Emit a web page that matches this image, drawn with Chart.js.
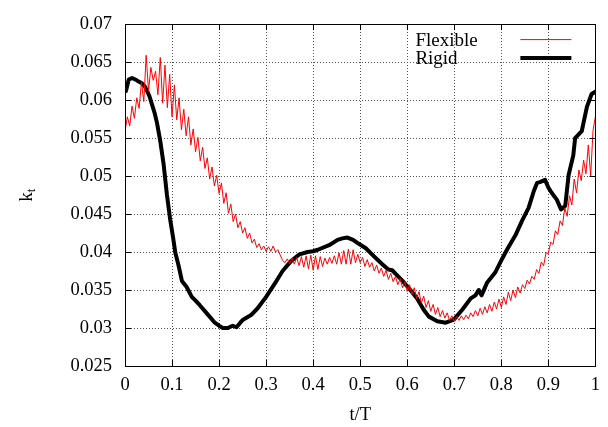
<!DOCTYPE html>
<html>
<head>
<meta charset="utf-8">
<style>
  html, body { margin: 0; padding: 0; background: #fff; }
  #wrap { width: 608px; height: 427px; }
</style>
</head>
<body>
<div id="wrap"><canvas id="mychart"></canvas></div>
<script src="https://cdn.jsdelivr.net/npm/chart.js@4.4.0/dist/chart.umd.min.js"></script>
<script>

// Flexible (red), peak / trough pairs
var flexT = [0,0.005,0.01,0.015,0.02,0.025,0.03,0.035,0.04,0.045,0.05,0.055,0.06,0.065,0.07,0.075,0.08,0.085,0.09,0.095,
  0.1,0.105,0.11,0.115,0.12,0.125,0.13,0.135,0.14,0.145,0.15,0.155,0.16,0.165,0.17,0.175,0.18,0.185,0.19,0.195,
  0.2,0.205,0.21,0.215,0.22,0.225,0.23,0.235,0.24,0.245,0.25,0.255,0.26,0.265,0.27,0.275,0.28,0.285,0.29,0.295,
  0.3,0.305,0.31,0.315,0.32,0.325,0.33,0.335,0.34,0.345,0.35,0.355,0.36,0.365,0.37,0.375,0.38,0.385,0.39,0.395,
  0.4,0.405,0.41,0.415,0.42,0.425,0.43,0.435,0.44,0.445,0.45,0.455,0.46,0.465,0.47,0.475,0.48,0.485,0.49,0.495,
  0.5,0.505,0.51,0.515,0.52,0.525,0.53,0.535,0.54,0.545,0.55,0.555,0.56,0.565,0.57,0.575,0.58,0.585,0.59,0.595,
  0.6,0.605,0.61,0.615,0.62,0.625,0.63,0.635,0.64,0.645,0.65,0.655,0.66,0.665,0.67,0.675,0.68,0.685,0.69,0.695,
  0.7,0.705,0.71,0.715,0.72,0.725,0.73,0.735,0.74,0.745,0.75,0.755,0.76,0.765,0.77,0.775,0.78,0.785,0.79,0.795,
  0.8,0.805,0.81,0.815,0.82,0.825,0.83,0.835,0.84,0.845,0.85,0.855,0.86,0.865,0.87,0.875,0.88,0.885,0.89,0.895,
  0.9,0.905,0.91,0.915,0.92,0.925,0.93,0.935,0.94,0.945,0.95,0.955,0.96,0.965,0.97,0.975,0.98,0.985,0.99,0.995,1];
var flexK = [0.0559,0.0578,0.0566,0.0592,0.0576,0.0603,0.0589,0.0624,0.0598,0.0659,0.0612,0.0643,0.0626,0.0638,0.0607,0.0656,0.0596,0.0646,0.0590,0.0634,
  0.0578,0.0620,0.0574,0.0603,0.0561,0.0588,0.0553,0.0578,0.0541,0.0562,0.0532,0.0551,0.0520,0.0538,0.0510,0.0524,0.0496,0.0512,0.0487,0.0501,
  0.0477,0.0491,0.0464,0.0478,0.0451,0.0463,0.0440,0.0450,0.0432,0.0440,0.0425,0.0432,0.0418,0.0425,0.0412,0.0417,0.0406,0.0411,0.0403,0.0408,
  0.0401,0.0407,0.0401,0.0408,0.0400,0.0403,0.0396,0.0389,0.0386,0.0391,0.0385,0.0392,0.0384,0.0393,0.0382,0.0394,0.0380,0.0395,0.0378,0.0396,
  0.0376,0.0395,0.0377,0.0394,0.0381,0.0392,0.0384,0.0393,0.0385,0.0395,0.0384,0.0399,0.0384,0.0402,0.0384,0.0404,0.0384,0.0403,0.0386,0.0397,
  0.0386,0.0393,0.0381,0.0390,0.0380,0.0386,0.0375,0.0383,0.0372,0.0379,0.0368,0.0376,0.0364,0.0372,0.0361,0.0368,0.0357,0.0365,0.0353,0.0361,
  0.0348,0.0357,0.0344,0.0353,0.0339,0.0348,0.0333,0.0342,0.0327,0.0336,0.0322,0.0331,0.0318,0.0327,0.0315,0.0323,0.0313,0.0320,0.0310,0.0316,
  0.0309,0.0315,0.0310,0.0316,0.0311,0.0317,0.0312,0.0320,0.0315,0.0323,0.0316,0.0326,0.0318,0.0328,0.0320,0.0331,0.0322,0.0334,0.0325,0.0338,
  0.0327,0.0341,0.0331,0.0347,0.0336,0.0350,0.0340,0.0354,0.0346,0.0357,0.0352,0.0363,0.0358,0.0368,0.0364,0.0377,0.0372,0.0387,0.0382,0.0399,
  0.0398,0.0413,0.0410,0.0428,0.0423,0.0441,0.0435,0.0458,0.0447,0.0474,0.0462,0.0496,0.0478,0.0508,0.0494,0.0521,0.0503,0.0541,0.0500,0.0560,0.0578];

// Rigid (black)
var rigidT = [0.002,0.008,0.015,0.025,0.03,0.036,0.042,0.047,0.052,0.057,0.063,0.068,0.075,0.082,0.089,0.096,0.102,0.107,0.114,0.121,
  0.131,0.142,0.15,0.159,0.173,0.191,0.2,0.208,0.219,0.225,0.229,0.237,0.245,0.251,0.268,0.282,0.3,0.318,0.335,0.353,
  0.371,0.388,0.4,0.41,0.434,0.452,0.462,0.473,0.485,0.494,0.512,0.53,0.547,0.56,0.568,0.576,0.59,0.604,0.621,0.635,
  0.646,0.664,0.682,0.699,0.717,0.735,0.745,0.752,0.758,0.77,0.787,0.8,0.812,0.83,0.844,0.858,0.869,0.876,0.882,0.893,
  0.9,0.907,0.918,0.927,0.936,0.943,0.953,0.957,0.971,0.982,0.992,1];
var rigidK = [0.0612,0.0627,0.0629,0.0626,0.0624,0.0622,0.0618,0.0612,0.0605,0.0595,0.0583,0.0570,0.0546,0.0516,0.0476,0.0443,0.0420,0.0399,0.0382,0.0362,
  0.0354,0.0341,0.0336,0.0330,0.0320,0.0307,0.0303,0.0300,0.0300,0.0302,0.0303,0.0301,0.0307,0.0311,0.0317,0.0326,0.0341,0.0358,0.0375,0.0388,
  0.0397,0.0400,0.0401,0.0403,0.0409,0.0416,0.0418,0.0419,0.0416,0.0412,0.0405,0.0394,0.0384,0.0377,0.0376,0.0371,0.0362,0.0352,0.0339,0.0324,
  0.0315,0.0309,0.0307,0.0311,0.0324,0.0339,0.0343,0.0350,0.0343,0.0360,0.0373,0.0389,0.0403,0.0422,0.0441,0.0458,0.0480,0.0491,0.0492,0.0495,
  0.0485,0.0478,0.0469,0.0456,0.0461,0.0501,0.0527,0.0550,0.0559,0.0591,0.0608,0.0611];

var xTickLabels = ['0','0.1','0.2','0.3','0.4','0.5','0.6','0.7','0.8','0.9','1'];
var yTickLabels = ['0.025','0.03','0.035','0.04','0.045','0.05','0.055','0.06','0.065','0.07'];
var seriesNames = ['Flexible', 'Rigid'];

var serif = "'Liberation Serif', 'Times New Roman', serif";

function pairs(t, k) {
  return t.map(function(v, i){ return {x: v, y: k[i]}; });
}

// dotted grid under the curves
var dottedGrid = {
  id: 'dottedGrid',
  beforeDatasetsDraw: function(chart) {
    var ctx = chart.ctx, a = chart.chartArea;
    var xs = chart.scales.x, ys = chart.scales.y;
    ctx.save();
    ctx.strokeStyle = '#555';
    ctx.lineWidth = 1;
    ctx.setLineDash([1, 2]);
    ctx.beginPath();
    xs.ticks.forEach(function(t){
      var p = Math.round(xs.getPixelForValue(t.value)) + 0.5;
      ctx.moveTo(p, a.bottom); ctx.lineTo(p, a.top);
    });
    ys.ticks.forEach(function(t){
      var p = Math.round(ys.getPixelForValue(t.value)) + 0.5;
      ctx.moveTo(a.left, p); ctx.lineTo(a.right, p);
    });
    ctx.stroke();
    ctx.restore();
  }
};

// frame, inward tick marks, axis titles and the gnuplot style key
var gnuplotBits = {
  id: 'gnuplotBits',
  afterDraw: function(chart) {
    var ctx = chart.ctx, a = chart.chartArea;
    var xs = chart.scales.x, ys = chart.scales.y;
    ctx.save();
    ctx.strokeStyle = '#000';
    ctx.lineWidth = 1;
    ctx.beginPath();
    xs.ticks.forEach(function(t){
      var p = Math.round(xs.getPixelForValue(t.value)) + 0.5;
      ctx.moveTo(p, a.bottom); ctx.lineTo(p, a.bottom - 6);
      ctx.moveTo(p, a.top); ctx.lineTo(p, a.top + 6);
    });
    ys.ticks.forEach(function(t){
      var p = Math.round(ys.getPixelForValue(t.value)) + 0.5;
      ctx.moveTo(a.left, p); ctx.lineTo(a.left + 6, p);
      ctx.moveTo(a.right, p); ctx.lineTo(a.right - 6, p);
    });
    ctx.stroke();
    ctx.strokeRect(Math.round(a.left) + 0.5, Math.round(a.top) + 0.5,
      Math.round(a.right - a.left), Math.round(a.bottom - a.top));

    // x title
    ctx.fillStyle = '#000';
    ctx.font = '18.5px ' + serif;
    ctx.textAlign = 'center';
    ctx.textBaseline = 'alphabetic';
    ctx.fillText('t/T', (a.left + a.right) / 2, 420);

    // y title k_t
    ctx.save();
    ctx.translate(32, (a.top + a.bottom) / 2);
    ctx.rotate(-Math.PI / 2);
    ctx.font = '18.5px ' + serif;
    var wk = ctx.measureText('k').width;
    ctx.font = '13px ' + serif;
    var wt = ctx.measureText('t').width;
    var x0 = -(wk + wt) / 2;
    ctx.textAlign = 'left';
    ctx.font = '18.5px ' + serif;
    ctx.fillText('k', x0, 0);
    ctx.font = '13px ' + serif;
    ctx.fillText('t', x0 + wk, 3);
    ctx.restore();

    // key
    ctx.font = '19px ' + serif;
    ctx.textAlign = 'left';
    ctx.fillText(seriesNames[0], a.right - 180, a.top + 22);
    ctx.fillText(seriesNames[1], a.right - 180, a.top + 40);
    ctx.lineCap = 'butt';
    ctx.strokeStyle = '#ff0000';
    ctx.lineWidth = 1;
    ctx.beginPath();
    ctx.moveTo(a.right - 75, a.top + 15.5); ctx.lineTo(a.right - 24, a.top + 15.5);
    ctx.stroke();
    ctx.strokeStyle = '#000';
    ctx.lineWidth = 4;
    ctx.beginPath();
    ctx.moveTo(a.right - 75, a.top + 34); ctx.lineTo(a.right - 24, a.top + 34);
    ctx.stroke();
    ctx.restore();
  }
};

let mychart = document.getElementById('mychart').getContext('2d');

let kChart = new Chart(mychart, {
  type: 'line',
  data: {
    datasets: [{
      label: seriesNames[0],
      data: pairs(flexT, flexK),
      borderColor: '#ff0000',
      borderWidth: 1,
      pointRadius: 0,
      tension: 0,
      order: 0
    }, {
      label: seriesNames[1],
      data: pairs(rigidT, rigidK),
      borderColor: '#000000',
      borderWidth: 4,
      borderJoinStyle: 'round',
      borderCapStyle: 'round',
      pointRadius: 0,
      tension: 0,
      order: 1
    }]
  },
  options: {
    responsive: true,
    maintainAspectRatio: false,
    animation: false,
    devicePixelRatio: 1,
    layout: { padding: { left: 0, right: 11, top: 15, bottom: 0 } },
    plugins: {
      legend: { display: false },
      tooltip: { enabled: false },
      title: { display: false }
    },
    scales: {
      x: {
        type: 'linear',
        min: 0, max: 1,
        afterFit: function(s){ s.height = 61; },
        ticks: {
          stepSize: 0.1,
          padding: 8,
          maxRotation: 0,
          color: '#000',
          font: { family: serif, size: 18.5 },
          callback: function(v, i){ return xTickLabels[i]; }
        },
        grid: { display: false, drawTicks: false },
        border: { display: false }
      },
      y: {
        type: 'linear',
        min: 0.025, max: 0.07,
        afterFit: function(s){ s.width = 125; },
        ticks: {
          stepSize: 0.005,
          padding: 13,
          color: '#000',
          font: { family: serif, size: 18.5 },
          callback: function(v, i){ return yTickLabels[i]; }
        },
        grid: { display: false, drawTicks: false },
        border: { display: false }
      }
    }
  },
  plugins: [dottedGrid, gnuplotBits]
});

</script>
</body>
</html>
